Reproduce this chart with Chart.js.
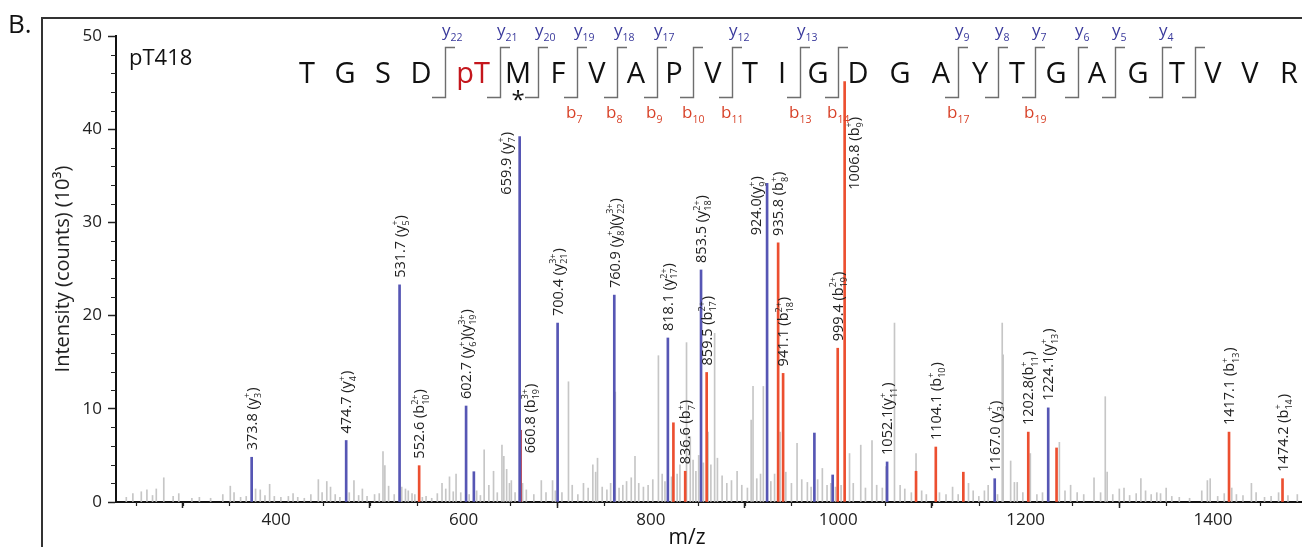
<!DOCTYPE html>
<html>
<head>
<meta charset="utf-8">
<script src="https://cdn.jsdelivr.net/npm/chart.js@4.4.0/dist/chart.umd.min.js"></script>
<style>
  html, body { margin: 0; padding: 0; background: #fff; }
</style>
</head>
<body>
<canvas id="ms" width="1302" height="547"></canvas>
<script>
// ---- data (m/z, intensity in 10^3 counts) ----
const yIonMz = [373.8, 474.7, 531.7, 602.7, 659.9, 700.4, 760.9, 818.1, 853.5, 924.0, 1052.1, 1167.0, 1224.1];
const yIonInt = [4.8, 6.6, 23.3, 10.3, 39.2, 19.2, 22.2, 17.6, 24.9, 34.2, 4.3, 2.5, 10.1];
const yIonLabels = [
  '373.8 (y_{3}^{+})', '474.7 (y_{4}^{+})', '531.7 (y_{5}^{+})', '602.7 (y_{6}^{+})(y_{19}^{3+})',
  '659.9 (y_{7}^{+})', '700.4 (y_{21}^{3+})', '760.9 (y_{8}^{+})(y_{22}^{3+})', '818.1 (y_{17}^{2+})',
  '853.5 (y_{18}^{2+})', '924.0(y_{9}^{+})', '1052.1(y_{11}^{+})', '1167.0 (y_{3}^{+})', '1224.1(y_{13}^{+})'
];

const bIonMz = [552.6, 836.6, 859.5, 935.8, 941.1, 999.4, 1006.8, 1104.1, 1202.8, 1417.1, 1474.2];
const bIonInt = [3.9, 3.3, 13.9, 27.8, 13.8, 16.5, 45.1, 5.9, 7.5, 7.5, 2.5];
const bIonLabels = [
  '552.6 (b_{10}^{2+})', '836.6 (b_{7}^{+})', '859.5 (b_{17}^{2+})', '935.8 (b_{8}^{+})',
  '941.1 (b_{18}^{2+})', '999.4 (b_{19}^{2+})', '1006.8 (b_{9}^{+})', '1104.1 (b_{10}^{+})',
  '1202.8(b_{11}^{+})', '1417.1 (b_{13}^{+})', '1474.2 (b_{14}^{+})'
];

const b3Mz = [660.8];
const b3Int = [7.7];
const b3Labels = ['660.8 (b_{19}^{3+})'];

const blueOtherMz = [611.0, 974.5, 994.0];
const blueOtherInt = [3.25, 7.4, 2.9];
const redOtherMz = [824.0, 1083.0, 1133.5, 1233.0];
const redOtherInt = [8.5, 3.3, 3.2, 5.8];

const greyMz = [
  240, 247, 256, 262, 268, 272, 280, 290, 296, 310, 318, 330, 343, 351, 355, 362, 368, 378, 383, 388, 393, 398,
  405, 413, 418, 423, 430, 437, 445, 449, 454, 458, 463, 468, 478, 483, 488, 492, 497, 505, 510, 514, 516, 520, 526,
  534, 538, 541, 545, 548, 556, 560, 566, 572, 577, 581, 585, 589, 592, 597, 606, 614, 618, 622, 627, 632, 636, 641,
  643, 646, 649, 651, 655, 663, 667,
  675, 683, 688, 695, 698, 705, 712, 716, 722, 728, 733, 738, 741, 743, 748, 753, 757, 762, 766, 770, 774, 779, 783, 787, 792, 797,
  802, 808, 812, 815, 822, 828, 831, 838, 842, 845, 848, 851, 856, 861, 864, 868, 871, 876, 881, 886, 892, 897,
  903, 907, 909, 913, 917, 920, 928, 932, 938, 944, 950, 956, 961, 967, 971, 978, 983, 988, 992, 997,
  1003, 1012, 1016, 1024, 1029, 1036, 1041, 1047, 1051, 1060, 1066, 1071, 1078, 1083, 1089, 1094,
  1108, 1115, 1122, 1128, 1139, 1144, 1150, 1156, 1160, 1170, 1175, 1176, 1184, 1188, 1191, 1197, 1205,
  1212, 1218, 1236, 1242, 1248, 1255, 1262, 1273, 1280, 1285, 1287, 1293, 1300, 1305, 1311, 1318, 1323, 1328, 1334,
  1340, 1344, 1350, 1356, 1364, 1375, 1388, 1394, 1397, 1405, 1412, 1420, 1425, 1432, 1441, 1446, 1455, 1462, 1470, 1480, 1490
];
const greyInt = [
  0.5, 0.9, 1.1, 1.3, 0.7, 1.4, 2.6, 0.6, 0.9, 0.4, 0.5, 0.4, 0.8, 1.7, 1.0, 0.5, 0.6, 1.4, 1.3, 0.7, 1.9, 0.6,
  0.5, 0.6, 0.9, 0.5, 0.4, 0.8, 2.4, 1.0, 2.2, 1.6, 0.8, 0.5, 1.0, 2.3, 0.7, 1.4, 0.6, 0.8, 0.9, 5.4, 3.9, 1.7, 0.8,
  1.6, 1.4, 1.2, 0.9, 0.8, 0.5, 0.6, 0.4, 0.9, 2.0, 1.4, 2.7, 1.1, 3.0, 1.0, 0.8, 1.2, 0.7, 5.6, 1.8, 3.3, 1.0, 6.1,
  4.9, 3.5, 2.0, 2.3, 1.0, 2.0, 1.3,
  0.8, 2.3, 1.0, 2.3, 1.2, 1.0, 12.9, 1.8, 0.8, 2.0, 1.5, 4.0, 3.2, 4.7, 1.6, 1.3, 2.0, 11.8, 1.5, 1.8, 2.2, 2.6, 4.9, 2.0, 1.6, 1.8,
  2.4, 15.7, 3.0, 2.2, 2.7, 3.0, 4.0, 17.1, 7.0, 4.5, 3.3, 5.0, 4.2, 7.5, 4.0, 18.1, 4.7, 2.8, 2.0, 2.3, 3.3, 1.8,
  1.5, 8.8, 12.4, 2.5, 3.0, 12.4, 2.2, 3.0, 7.5, 3.2, 2.0, 6.3, 2.4, 2.1, 1.6, 2.4, 3.6, 1.8, 2.0, 1.6,
  1.8, 5.2, 2.0, 6.1, 1.5, 6.6, 1.8, 1.5, 3.8, 19.2, 1.8, 1.4, 1.0, 5.2, 1.2, 0.8,
  1.0, 0.8, 1.6, 0.8, 2.0, 1.2, 0.6, 1.2, 1.8, 0.8, 19.2, 15.8, 4.4, 2.1, 2.1, 1.0, 5.2,
  0.8, 1.0, 6.4, 1.2, 1.8, 1.0, 0.8, 2.6, 1.0, 11.3, 3.2, 0.8, 1.4, 1.5, 0.7, 0.9, 2.5, 1.2, 0.8,
  1.0, 0.9, 1.5, 0.6, 0.5, 0.4, 1.2, 2.3, 2.5, 0.6, 0.9, 1.5, 0.8, 0.7, 2.0, 1.0, 0.5, 0.6, 1.0, 0.7, 0.8
];

const xTicks = [400, 600, 800, 1000, 1200, 1400];
const yTicks = [0, 10, 20, 30, 40, 50];

// peptide header
const residues = [
  ['T', 307], ['G', 345], ['S', 383], ['D', 421], ['pT', 473], ['M', 518], ['F', 558], ['V', 597],
  ['A', 636], ['P', 674], ['V', 713], ['T', 750], ['I', 782], ['G', 818], ['D', 858], ['G', 900],
  ['A', 941], ['Y', 980], ['T', 1017], ['G', 1056], ['A', 1097], ['G', 1138], ['T', 1177], ['V', 1213],
  ['V', 1250], ['R', 1289]
];
// cleavage marks: x, y-ion number, b-ion number
const cleavages = [
  [445, '22', null], [500, '21', null], [538, '20', null], [577, '19', '7'], [617, '18', '8'],
  [657, '17', '9'], [693, null, '10'], [732, '12', '11'], [800, '13', '13'], [838, null, '14'],
  [958, '9', '17'], [998, '8', null], [1035, '7', '19'], [1078, '6', null], [1115, '5', null],
  [1162, '4', null], [1195, null, null]
];

const BLUE = '#5656b4';
const RED = '#ec4f30';
const MAROON = '#a8324a';
const GREY = '#c6c6c6';
const FONT = '"Open Sans", "Noto Sans", sans-serif';
const LABEL_SIZE = 14.5;

// label placement tweaks (dx px, drop = px below peak top for label bottom)
const labelNudge = {
  '659.9': { dx: -14, drop: 58 },
  '924.0': { dx: -11, drop: 52 },
  '1006.8': { dx: 9, drop: 108 },
  '660.8': { dx: 9, drop: 23 },
};

const pts = (xs, ys) => xs.map((x, i) => ({ x: x, y: ys[i] }));

function richParts(str) {
  const parts = [];
  let buf = '';
  let i = 0;
  while (i < str.length) {
    const c = str[i];
    if ((c === '_' || c === '^') && str[i + 1] === '{') {
      if (buf) { parts.push({ k: 'n', s: buf }); buf = ''; }
      const j = str.indexOf('}', i);
      parts.push({ k: c === '_' ? 'sub' : 'sup', s: str.slice(i + 2, j) });
      i = j + 1;
    } else {
      buf += c;
      i++;
    }
  }
  if (buf) parts.push({ k: 'n', s: buf });
  return parts;
}

function drawRich(ctx, str, x0, y0, size) {
  const parts = richParts(str);
  const small = size * 0.62;
  let x = x0;
  for (let i = 0; i < parts.length; i++) {
    const p = parts[i];
    if (p.k === 'n') {
      ctx.font = size + 'px ' + FONT;
      ctx.fillText(p.s, x, y0);
      x += ctx.measureText(p.s).width;
    } else {
      ctx.font = small + 'px ' + FONT;
      const w = ctx.measureText(p.s).width;
      const dy = p.k === 'sub' ? size * 0.3 : -size * 0.45;
      ctx.fillText(p.s, x, y0 + dy);
      const nxt = parts[i + 1];
      if (p.k === 'sub' && nxt && nxt.k === 'sup') {
        const w2 = ctx.measureText(nxt.s).width;
        ctx.fillText(nxt.s, x, y0 - size * 0.45);
        x += Math.max(w, w2) + 1;
        i++;
      } else {
        x += w + 0.5;
      }
    }
  }
  return x - x0;
}

const decor = {
  id: 'decor',
  beforeDraw(chart) {
    const ctx = chart.ctx;
    ctx.save();
    ctx.fillStyle = '#fff';
    ctx.fillRect(0, 0, chart.width, chart.height);
    ctx.strokeStyle = '#333';
    ctx.lineWidth = 2;
    ctx.beginPath();
    ctx.moveTo(42, chart.height);
    ctx.lineTo(42, 18);
    ctx.lineTo(chart.width, 18);
    ctx.stroke();
    ctx.restore();
  },
  afterDraw(chart) {
    const ctx = chart.ctx;
    const xs = chart.scales.x;
    const ys = chart.scales.y;
    const area = chart.chartArea;
    ctx.save();

    // minor ticks
    ctx.strokeStyle = '#222';
    ctx.lineWidth = 1.2;
    ctx.beginPath();
    for (let v = 2; v < 50; v += 2) {
      if (v % 10 === 0) continue;
      const py = Math.round(ys.getPixelForValue(v)) + 0.5;
      ctx.moveTo(area.left - 5, py);
      ctx.lineTo(area.left, py);
    }
    for (let v = 250; v < xs.max; v += 50) {
      if (v % 200 === 0) continue;
      const px = Math.round(xs.getPixelForValue(v)) + 0.5;
      ctx.moveTo(px, area.bottom);
      ctx.lineTo(px, area.bottom + 4);
    }
    ctx.stroke();

    // peak annotations
    ctx.fillStyle = '#222';
    ctx.textAlign = 'left';
    ctx.textBaseline = 'alphabetic';
    const annotate = (mzs, ints, labels) => {
      mzs.forEach((mz, i) => {
        const key = mz.toFixed(1);
        const n = labelNudge[key] || { dx: 0, drop: -7 };
        const px = xs.getPixelForValue(mz) + n.dx;
        const py = ys.getPixelForValue(ints[i]) + n.drop;
        ctx.save();
        ctx.translate(px, py);
        ctx.rotate(-Math.PI / 2);
        drawRich(ctx, labels[i], 0, LABEL_SIZE * 0.36, LABEL_SIZE);
        ctx.restore();
      });
    };
    annotate(yIonMz, yIonInt, yIonLabels);
    annotate(bIonMz, bIonInt, bIonLabels);
    annotate(b3Mz, b3Int, b3Labels);

    // panel letter, title, axis name
    ctx.fillStyle = '#111';
    ctx.font = '26px ' + FONT;
    ctx.fillText('B.', 8, 33);
    ctx.font = '22px ' + FONT;
    ctx.fillText('pT418', 129, 65);
    ctx.font = '21px ' + FONT;
    ctx.textAlign = 'center';
    ctx.fillText('m/z', 687, 544);

    // peptide sequence
    ctx.font = '29px ' + FONT;
    residues.forEach(([aa, x]) => {
      ctx.fillStyle = aa === 'pT' ? '#c4161c' : '#111';
      ctx.fillText(aa, x, 83);
    });
    ctx.fillStyle = '#111';
    ctx.font = '24px ' + FONT;
    ctx.fillText('*', 518, 108);

    // cleavage brackets
    ctx.strokeStyle = '#6e6e6e';
    ctx.lineWidth = 1.4;
    ctx.beginPath();
    cleavages.forEach(([x]) => {
      ctx.moveTo(x + 10, 47.5);
      ctx.lineTo(x + 0.5, 47.5);
      ctx.lineTo(x + 0.5, 97.5);
      ctx.lineTo(x - 13, 97.5);
    });
    ctx.stroke();

    ctx.textAlign = 'left';
    cleavages.forEach(([x, yn, bn]) => {
      if (yn) {
        ctx.fillStyle = '#3a3a9c';
        drawRich(ctx, 'y_{' + yn + '}', x - 3, 36, 17);
      }
      if (bn) {
        ctx.fillStyle = '#d8432a';
        drawRich(ctx, 'b_{' + bn + '}', x - 11, 118, 17);
      }
    });
    ctx.restore();
  }
};

new Chart(document.getElementById('ms'), {
  type: 'bar',
  data: {
    datasets: [
      { data: pts(yIonMz, yIonInt), backgroundColor: BLUE, barThickness: 2 },
      { data: pts(blueOtherMz, blueOtherInt), backgroundColor: BLUE, barThickness: 2 },
      { data: pts(bIonMz, bIonInt), backgroundColor: RED, barThickness: 2 },
      { data: pts(redOtherMz, redOtherInt), backgroundColor: RED, barThickness: 2 },
      { data: pts(b3Mz, b3Int), backgroundColor: MAROON, barThickness: 2 },
      { data: pts(greyMz, greyInt), backgroundColor: GREY, barThickness: 1 }
    ]
  },
  options: {
    responsive: false,
    animation: false,
    layout: { padding: { left: 51, top: 36, right: 0, bottom: 0 } },
    plugins: { legend: { display: false }, tooltip: { enabled: false } },
    datasets: { bar: { grouped: false, borderWidth: 0 } },
    scales: {
      x: {
        type: 'linear',
        min: 229,
        max: 1495,
        offset: false,
        afterBuildTicks: s => { s.ticks = xTicks.map(v => ({ value: v })); },
        afterFit: s => { s.height = 45; },
        grid: { drawOnChartArea: false, tickLength: 6, tickColor: '#222', tickWidth: 1.5 },
        border: { color: '#111', width: 2 },
        ticks: {
          color: '#222',
          padding: 2,
          maxRotation: 0,
          font: { size: 17, family: FONT },
          callback: v => String(v)
        }
      },
      y: {
        min: 0,
        max: 50,
        afterBuildTicks: s => { s.ticks = yTicks.map(v => ({ value: v })); },
        afterFit: s => { s.width = 65; },
        grid: { drawOnChartArea: false, tickLength: 8, tickColor: '#222', tickWidth: 1.5 },
        border: { color: '#111', width: 2 },
        ticks: { color: '#222', padding: 6, font: { size: 17, family: FONT } },
        title: {
          display: true,
          text: 'Intensity (counts) (10³)',
          color: '#222',
          padding: { top: 0, bottom: 0 },
          font: { size: 20, family: FONT }
        }
      }
    }
  },
  plugins: [decor]
});
</script>
</body>
</html>
